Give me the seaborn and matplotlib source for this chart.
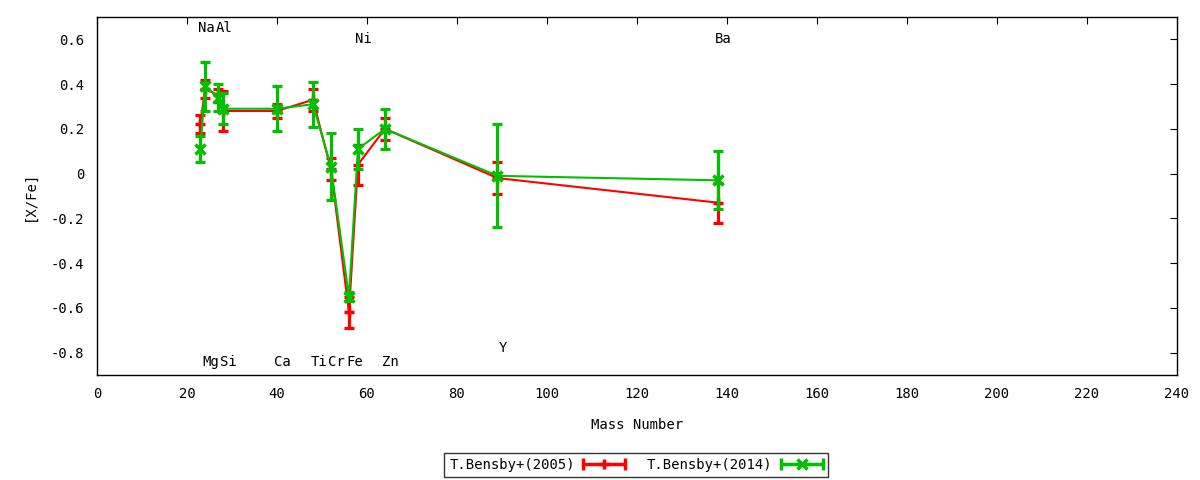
import matplotlib
matplotlib.use("Agg")
import matplotlib.pyplot as plt
import pandas as pd
import seaborn as sns
from matplotlib.legend_handler import HandlerBase
from matplotlib.lines import Line2D

# abundance ratios vs mass number
elements = ["Na", "Mg", "Al", "Si", "Ca", "Ti", "Cr", "Fe", "Ni", "Zn", "Y", "Ba"]
mass = [23, 24, 27, 28, 40, 48, 52, 56, 58, 64, 89, 138]
bensby2005 = [0.22, 0.38, 0.35, 0.28, 0.28, 0.33, 0.02, -0.62, 0.04, 0.20, -0.02, -0.13]
bensby2005_err = [0.04, 0.04, 0.03, 0.09, 0.03, 0.05, 0.05, 0.07, 0.09, 0.05, 0.07, 0.09]
bensby2014 = [0.11, 0.39, 0.34, 0.29, 0.29, 0.31, 0.03, -0.55, 0.11, 0.20, -0.01, -0.03]
bensby2014_err = [0.06, 0.11, 0.06, 0.07, 0.10, 0.10, 0.15, 0.02, 0.09, 0.09, 0.23, 0.13]
label_y = [0.65, -0.84, 0.65, -0.84, -0.84, -0.84, -0.84, -0.84, 0.60, -0.84, -0.78, 0.60]
x_ticks = list(range(0, 241, 20))
y_ticks = [-0.8, -0.6, -0.4, -0.2, 0, 0.2, 0.4, 0.6]

sns.set_style("white")
plt.rcParams['font.family'] = ['DejaVu Sans Mono']
plt.rcParams['font.size'] = 10
plt.rcParams['text.color'] = 'black'
plt.rcParams['axes.labelcolor'] = 'black'
plt.rcParams['xtick.color'] = 'black'
plt.rcParams['ytick.color'] = 'black'

series = [
    ("T.Bensby+(2005)", bensby2005, bensby2005_err, "#ff0000", "+"),
    ("T.Bensby+(2014)", bensby2014, bensby2014_err, "#00c000", "x"),
]


class CapHandler(HandlerBase):
    # gnuplot style key sample: |--+--|
    def create_artists(self, legend, orig_handle, xdescent, ydescent, width, height, fontsize, trans):
        c = orig_handle.get_color()
        y = height / 2 - ydescent
        x0, x1 = -xdescent, width - xdescent
        line = Line2D([x0, x1], [y, y], color=c, lw=2.5)
        caps = Line2D([x0, x1], [y, y], ls="none", marker="|", ms=8, mew=2.5, color=c)
        mark = Line2D([(x0 + x1) / 2], [y], ls="none", marker=orig_handle.get_marker(),
                      ms=7, mew=2.5, color=c)
        for a in (line, caps, mark):
            a.set_transform(trans)
        return [line, caps, mark]


fig = plt.figure(figsize=(12, 4.8), dpi=100)
ax = fig.add_axes([0.0808, 0.2188, 0.9, 0.7458])

handles = []
for name, vals, errs, color, mk in series:
    df = pd.DataFrame({"mass": mass, "val": vals})
    sns.lineplot(data=df, x="mass", y="val", color=color, marker=mk, markersize=7,
                 markeredgewidth=2.5, markeredgecolor=color, linewidth=1.5, ax=ax)
    ax.errorbar(mass, vals, yerr=errs, fmt="none", ecolor=color, elinewidth=2.3,
                capsize=3.5, capthick=2.3)
    handles.append(Line2D([], [], color=color, marker=mk))

for el, m, ly in zip(elements, mass, label_y):
    ax.annotate(el, (m, ly), xytext=(4, 0), textcoords="offset points",
                ha="center", va="center", fontsize=10)

ax.set_xlim(0, 240)
ax.set_ylim(-0.9, 0.7)
ax.set_xticks(x_ticks)
ax.set_yticks(y_ticks)
ax.set_yticklabels(["-0.8", "-0.6", "-0.4", "-0.2", "0", "0.2", "0.4", "0.6"])
ax.tick_params(direction="in", length=5, top=True, right=True, labelsize=10, pad=9)
for s in ax.spines.values():
    s.set_color("black")
    s.set_linewidth(1)
ax.set_xlabel("Mass Number", fontsize=10, labelpad=12)
ax.set_ylabel("[X/Fe]", fontsize=10, labelpad=10)

leg = fig.legend(handles, [s[0] for s in series], handler_map={Line2D: CapHandler()},
                 loc="center", bbox_to_anchor=(0.53, 0.031), ncol=2, markerfirst=False,
                 frameon=True, fancybox=False, edgecolor="black", handlelength=3,
                 handletextpad=0.6, columnspacing=1.6, borderpad=0.35, fontsize=10)
leg.get_frame().set_linewidth(1)

fig.savefig("out.png", dpi=100)
